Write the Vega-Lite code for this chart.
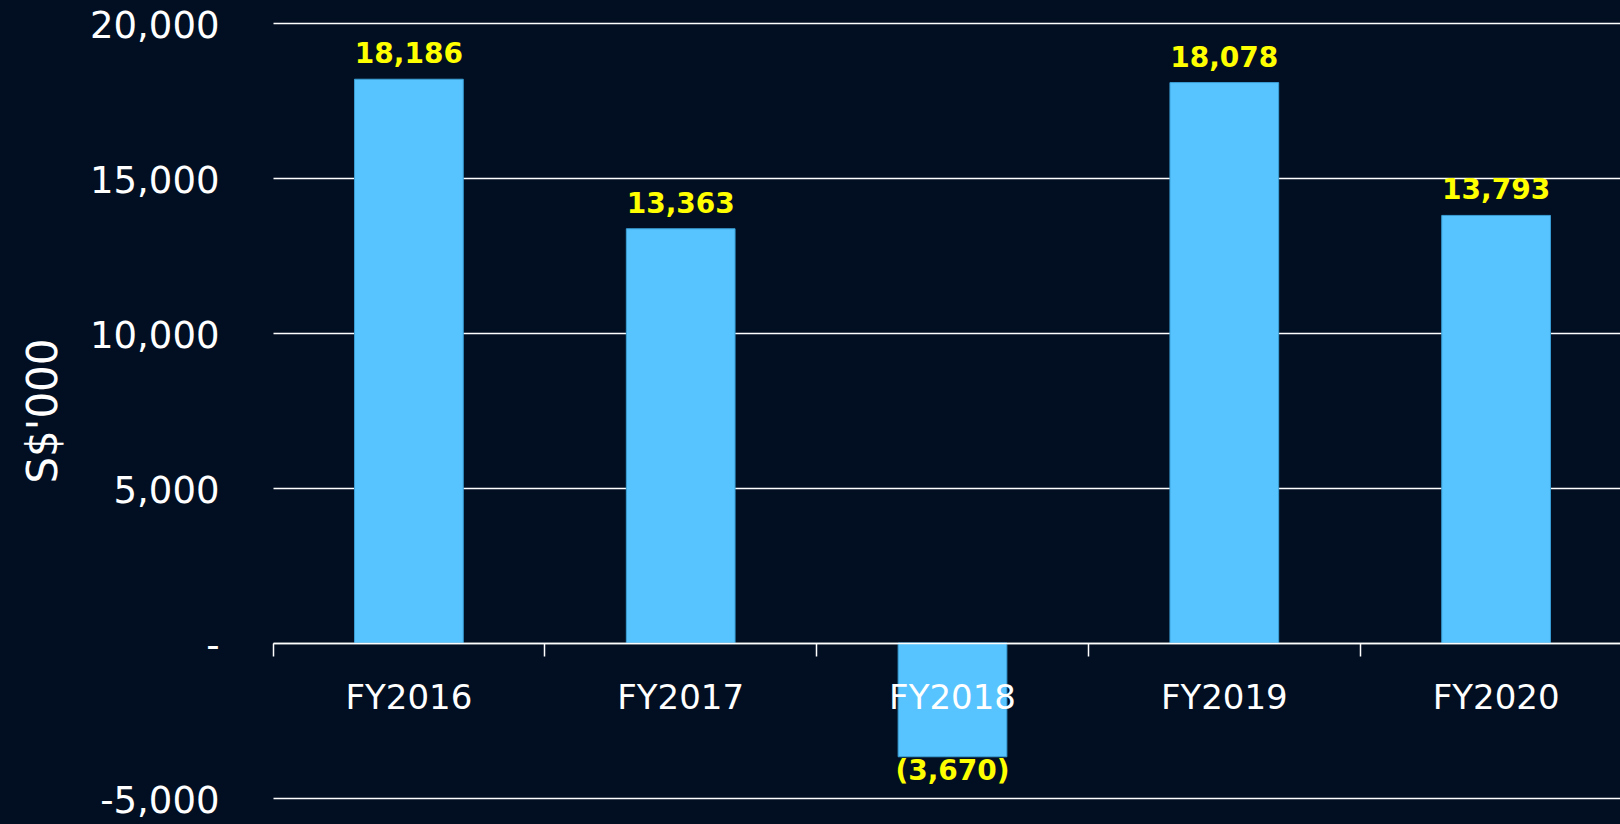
{
  "$schema": "https://vega.github.io/schema/vega-lite/v6.json",
  "autosize": "none",
  "width": 1359,
  "height": 775,
  "padding": {"left": 273, "top": 23, "right": 0, "bottom": 26},
  "background": "#020f22",
  "config": {
    "view": {"stroke": null},
    "font": "DejaVu Sans"
  },
  "data": {
    "values": [
      {"year": "FY2016", "value": 18186},
      {"year": "FY2017", "value": 13363},
      {"year": "FY2018", "value": -3670},
      {"year": "FY2019", "value": 18078},
      {"year": "FY2020", "value": 13793}
    ]
  },
  "encoding": {
    "x": {
      "field": "year",
      "type": "nominal",
      "sort": null,
      "scale": {"paddingInner": 0, "paddingOuter": 0},
      "axis": {
        "title": null,
        "orient": "bottom",
        "offset": -155,
        "bandPosition": 0,
        "zindex": 1,
        "domainColor": "#ffffff",
        "domainWidth": 1.5,
        "tickColor": "#ffffff",
        "tickWidth": 1.5,
        "tickSize": 13,
        "labelColor": "#ffffff",
        "labelFontSize": 34,
        "labelPadding": 25,
        "labelAngle": 0,
        "grid": false
      }
    },
    "y": {
      "field": "value",
      "type": "quantitative",
      "scale": {"domain": [-5000, 20000], "nice": false, "zero": false},
      "axis": {
        "title": "S$'000",
        "titleColor": "#ffffff",
        "titleFontSize": 42,
        "titleFontWeight": "normal",
        "titlePadding": 24,
        "values": [-5000, 0, 5000, 10000, 15000, 20000],
        "labelExpr": "datum.value == 0 ? '-' : replace(format(datum.value, ','), '\u2212', '-')",
        "labelColor": "#ffffff",
        "labelFontSize": 37,
        "labelPadding": 54,
        "labelOffset": 3,
        "domain": false,
        "ticks": false,
        "grid": true,
        "gridColor": "#ffffff",
        "gridWidth": 1.5,
        "gridOpacity": 1,
        "zindex": 0
      }
    }
  },
  "layer": [
    {
      "mark": {"type": "bar", "width": {"band": 0.4}, "color": "#57c4ff", "stroke": "#3a9fd6", "strokeWidth": 1}
    },
    {
      "transform": [{"filter": "datum.value >= 0"}],
      "mark": {"type": "text", "baseline": "alphabetic", "dy": -16, "color": "#ffff00", "fontSize": 28, "fontWeight": "bold"},
      "encoding": {"text": {"field": "value", "type": "quantitative", "format": "(,.0f"}}
    },
    {
      "transform": [{"filter": "datum.value < 0"}],
      "mark": {"type": "text", "baseline": "top", "dy": 1, "color": "#ffff00", "fontSize": 28, "fontWeight": "bold"},
      "encoding": {"text": {"field": "value", "type": "quantitative", "format": "(,.0f"}}
    }
  ]
}
